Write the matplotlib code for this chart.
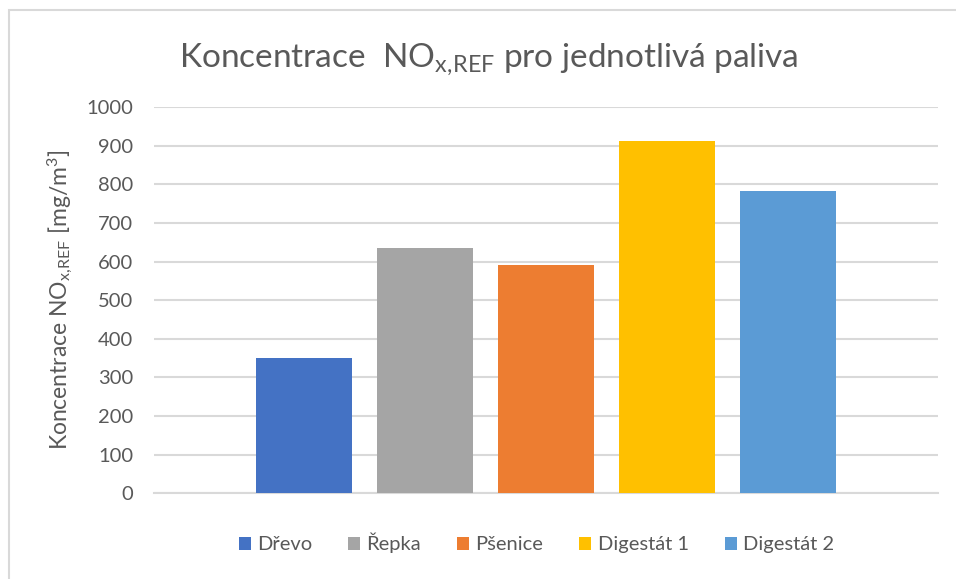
import matplotlib
matplotlib.use("Agg")
import matplotlib.pyplot as plt
from matplotlib.patches import Rectangle

# data
paliva = ["Dřevo", "Řepka", "Pšenice", "Digestát 1", "Digestát 2"]
nox_ref = [350, 635, 592, 913, 784]
barvy = ["#4472C4", "#A5A5A5", "#ED7D31", "#FFC000", "#5B9BD5"]
y_ticks = [0, 100, 200, 300, 400, 500, 600, 700, 800, 900, 1000]

text_col = "#595959"
grid_col = "#D9D9D9"

plt.rcParams["font.family"] = ["Lato", "DejaVu Sans"]
plt.rcParams["mathtext.default"] = "regular"

fig = plt.figure(figsize=(9.56, 5.79), dpi=100)
ax = fig.add_axes([0.161, 0.148, 0.820, 0.667])

# chart frame (cropped at right and bottom in the reference)
fig.patches.append(Rectangle((9 / 956, -0.1), 1.2, 1 - 10 / 579 + 0.1,
                             transform=fig.transFigure, fill=False,
                             edgecolor=grid_col, linewidth=1.5))

width = 0.79
for i, (name, val, c) in enumerate(zip(paliva, nox_ref, barvy)):
    ax.bar(i, val, width=width, color=c, label=name, zorder=3)

ax.set_xlim(-1.24, len(paliva) - 1 + 1.24)
ax.set_ylim(0, 1000)
ax.set_yticks(y_ticks)
ax.set_xticks([])
ax.yaxis.grid(True, color=grid_col, linewidth=1.5, zorder=0)
ax.tick_params(axis="y", length=0, pad=15, labelsize=14.5, labelcolor=text_col)
for s in ax.spines.values():
    s.set_visible(False)
ax.spines["bottom"].set_visible(True)
ax.spines["bottom"].set_color(grid_col)
ax.spines["bottom"].set_linewidth(1.5)

ax.set_ylabel(r"Koncentrace NO$_{x,\!REF}$ [mg/m$^{3}$]", fontsize=16.5,
              color=text_col, labelpad=8)

fig.text(0.511, 0.898, r"Koncentrace  NO$_{x,\!REF}$ pro jednotlivá paliva",
         ha="center", va="center", fontsize=24, color=text_col)

fig.legend(loc="center", bbox_to_anchor=(0.561, 0.062), ncol=5, frameon=False,
           fontsize=14.5, labelcolor=text_col, handlelength=0.6, handleheight=0.6,
           handletextpad=0.3, columnspacing=1.8)

fig.savefig("out.png", dpi=100)
